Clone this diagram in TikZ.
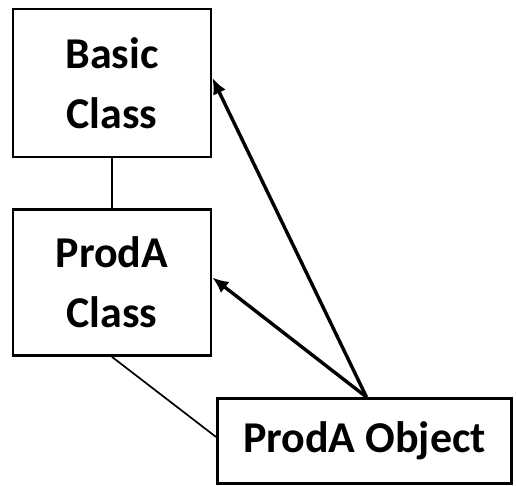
\documentclass[tikz,border=0pt]{standalone}
\usepackage{fontspec}
\setmainfont{Carlito}
\usetikzlibrary{arrows.meta}

\tikzset{
  classbox/.style={draw, line width=2.8pt, align=center, inner sep=0pt,
    font=\fontsize{44}{60}\selectfont\bfseries},
  link/.style={line width=1.7pt},
  inherit/.style={line width=3.4pt, -{Latex[length=16pt,width=14pt]}}
}

\begin{document}
\begin{tikzpicture}[x=1pt,y=-1pt]
\useasboundingbox (0,0) rectangle (516,486);

\node[classbox, minimum width=198pt, minimum height=148pt] (basic) at (112,83) {Basic\\Class};
\node[classbox, minimum width=198pt, minimum height=146pt] (proda) at (112,282.5) {ProdA\\Class};
\node[classbox, minimum width=294pt, minimum height=85pt] (obj) at (364.5,441) {ProdA Object};

\draw[link] (basic.south) -- (proda.north);
\draw[link] (proda.south) -- ([yshift=4pt]obj.west);
\draw[inherit] ([xshift=2pt]obj.north) -- ([yshift=5pt]basic.east);
\draw[inherit] ([xshift=2pt]obj.north) -- ([yshift=5pt]proda.east);
\end{tikzpicture}
\end{document}
